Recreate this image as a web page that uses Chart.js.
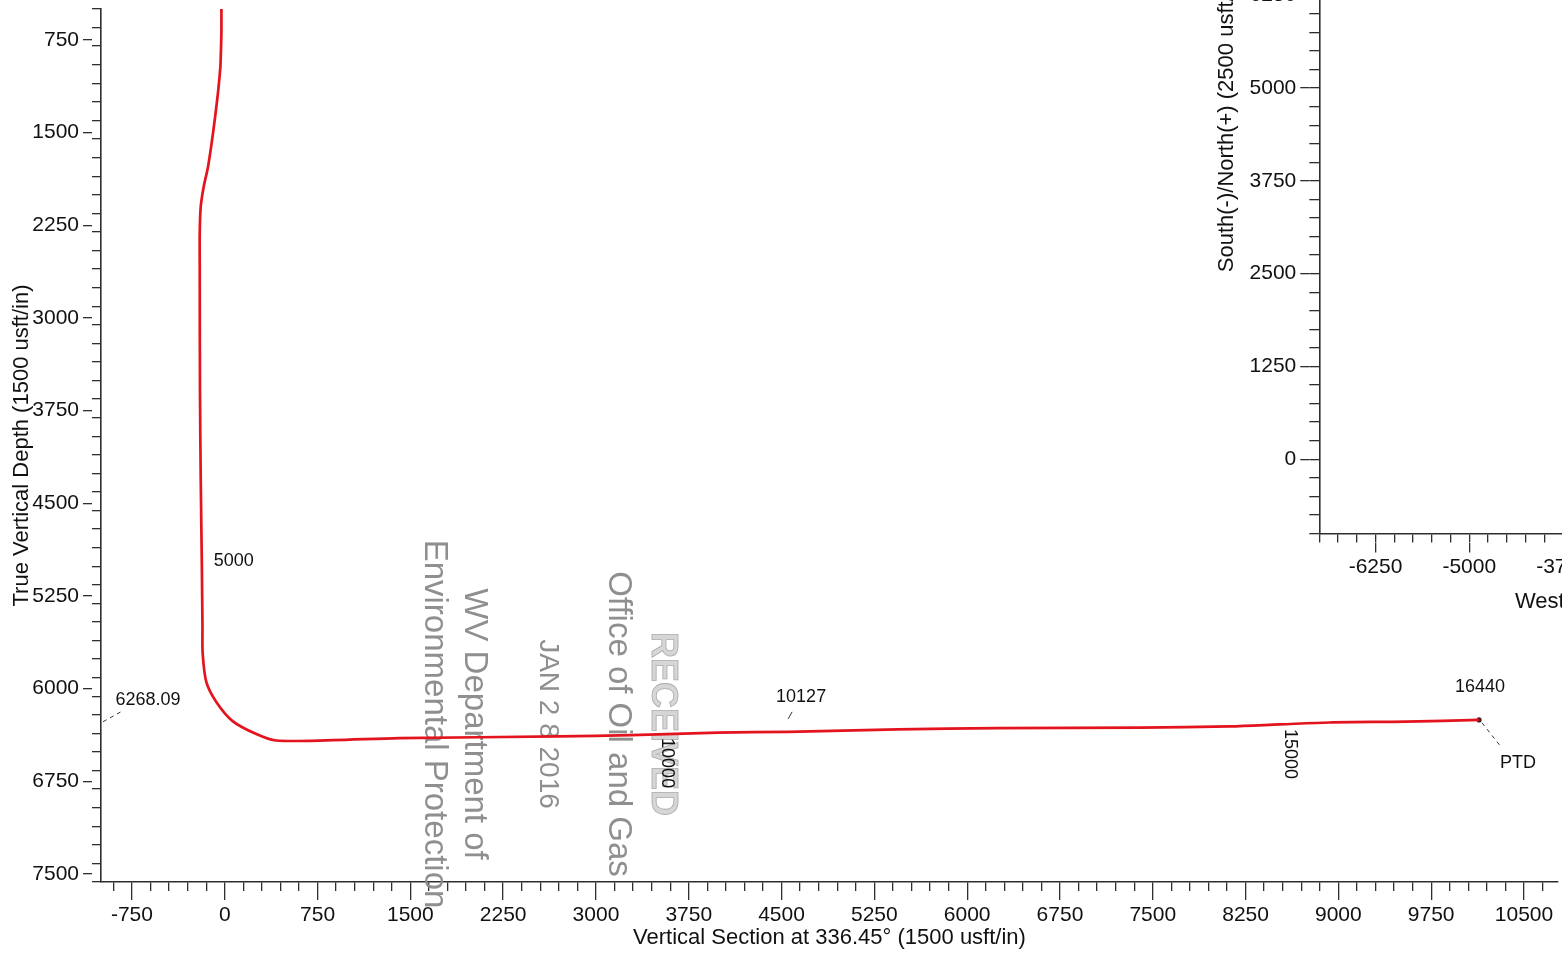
<!DOCTYPE html>
<html>
<head>
<meta charset="utf-8">
<title>Vertical section</title>
<script src="https://cdn.jsdelivr.net/npm/chart.js@4.4.1/dist/chart.umd.min.js"></script>
<style>
  html, body { margin: 0; padding: 0; background: #fff; overflow: hidden; }
  body { width: 1562px; height: 958px; position: relative; }
  #seccao { position: absolute; left: 0; top: 0; }
  #planta { position: absolute; left: 1200px; top: -300px; }
</style>
</head>
<body>
<canvas id="seccao" width="1562" height="958"></canvas>
<canvas id="planta" width="820" height="930"></canvas>
<script>
// well path in the vertical section (usft)
const sectionVS  = [-27, -27, -33, -35, -55, -95, -135, -170, -194, -202, -202, -200, -194, -185, -180, -178, -148, -67, 64, 255, 416, 870, 1410, 2699, 3287, 3989, 4553, 5439, 6245, 7397, 8123, 8526, 8928, 9549, 10137];
const sectionTVD = [500, 694, 913, 967, 1182, 1506, 1776, 1938, 2100, 2313, 2588, 3600, 4300, 5000, 5500, 5720, 5950, 6110, 6263, 6368, 6420, 6417, 6401, 6387, 6376, 6356, 6350, 6330, 6320, 6316, 6306, 6290, 6274, 6267, 6253];

// measured depth marks along the path
const mdLabels = ['5000', '10000', '10127', '15000', '16440'];
const mdVS     = [-178, 3570, 4553, 8598, 10137];
const mdTVD    = [4966, 6368, 6350, 6294, 6253];
const tvdTag   = 6268.09;
const endTag   = 'PTD';

// labelled ticks
const vsTicks    = [-750, 0, 750, 1500, 2250, 3000, 3750, 4500, 5250, 6000, 6750, 7500, 8250, 9000, 9750, 10500];
const tvdTicks   = [750, 1500, 2250, 3000, 3750, 4500, 5250, 6000, 6750, 7500];
const northTicks = [0, 1250, 2500, 3750, 5000, 6250];
const eastTicks  = [-6250, -5000, -3750];

// received stamp scanned over the sheet
const stampLines = ['RECEIVED', 'Office of Oil and Gas', 'JAN 2 8 2016', 'WV Department of', 'Environmental Protection'];

const fontFamily = '"Liberation Sans", Arial, Helvetica, sans-serif';
const axisColor = '#2e2e2e';
const textColor = '#111111';

Chart.defaults.font.family = fontFamily;
Chart.defaults.color = textColor;

const mdStyle = {
  '5000':  {dx: 11, dy: 0, align: 'left'},
  '10000': {dx: 0, dy: 4, turn: true},
  '10127': {dx: 13, dy: -35, lead: [0, -13, 4, -20]},
  '15000': {dx: 1, dy: 4, turn: true},
  '16440': {dx: 1, dy: -33}
};

const stampStyle = [
  {x: 662, size: 36, weight: 'bold', color: '#d6d6d6', edge: '#ababab'},
  {x: 618, size: 33, weight: 'normal', color: '#8f8f8f'},
  {x: 548, size: 28, weight: 'normal', color: '#8f8f8f'},
  {x: 474, size: 33, weight: 'normal', color: '#8f8f8f'},
  {x: 434, size: 33, weight: 'normal', color: '#8f8f8f'}
];

function plainLabel(v) {
  return String(v);
}

// minor axis: short ticks only; major axis sits right outside it
function minorAxis(pos, min, max, step, size, reverse) {
  return {
    type: 'linear', position: pos, weight: 0, reverse: !!reverse,
    min: min, max: max,
    ticks: {display: false, stepSize: step, includeBounds: false},
    grid: {drawOnChartArea: false, tickLength: size, color: axisColor, lineWidth: 1.3},
    border: {color: axisColor, width: 1.6},
    afterFit: (s) => {
      if (s.isHorizontal()) s.height = size; else s.width = size;
      s.paddingLeft = s.paddingRight = s.paddingTop = s.paddingBottom = 0;
    }
  };
}

function majorAxis(pos, min, max, values, size, box, pad, reverse, title) {
  return {
    type: 'linear', position: pos, weight: 1, reverse: !!reverse,
    min: min, max: max,
    afterBuildTicks: (s) => { s.ticks = values.map(v => ({value: v})); },
    ticks: {autoSkip: false, maxRotation: 0, padding: pad, font: {size: 21}, color: textColor, callback: plainLabel},
    grid: {drawOnChartArea: false, tickLength: size, color: axisColor, lineWidth: 1.3},
    border: {display: false},
    title: title || {display: false},
    afterFit: (s) => {
      if (s.isHorizontal()) s.height = box; else s.width = box;
      s.paddingLeft = s.paddingRight = s.paddingTop = s.paddingBottom = 0;
    }
  };
}

function axisTitle(text, padTop, padBottom) {
  return {display: true, text: text, font: {size: 22}, color: textColor, padding: {top: padTop, bottom: padBottom}};
}

function drawStamp(ctx) {
  ctx.save();
  stampLines.forEach((txt, i) => {
    const st = stampStyle[i];
    ctx.save();
    ctx.translate(st.x, 724);
    ctx.rotate(Math.PI / 2);
    ctx.font = st.weight + ' ' + st.size + 'px ' + fontFamily;
    ctx.textAlign = 'center';
    ctx.textBaseline = 'middle';
    ctx.fillStyle = st.color;
    ctx.fillText(txt, 0, 0);
    if (st.edge) {
      ctx.strokeStyle = st.edge;
      ctx.lineWidth = 0.8;
      ctx.strokeText(txt, 0, 0);
    }
    ctx.restore();
  });
  ctx.restore();
}

function drawNotes(chart) {
  const ctx = chart.ctx;
  const x = chart.scales.x;
  const y = chart.scales.y;
  ctx.save();
  ctx.fillStyle = textColor;
  ctx.strokeStyle = '#333';
  ctx.lineWidth = 1;
  ctx.font = '18px ' + fontFamily;

  mdLabels.forEach((txt, i) => {
    const st = mdStyle[txt];
    const px = x.getPixelForValue(mdVS[i]);
    const py = y.getPixelForValue(mdTVD[i]);
    if (st.lead) {
      ctx.beginPath();
      ctx.moveTo(px + st.lead[0], py + st.lead[1]);
      ctx.lineTo(px + st.lead[2], py + st.lead[3]);
      ctx.stroke();
    }
    ctx.save();
    ctx.translate(px + st.dx, py + st.dy);
    ctx.textBaseline = 'middle';
    if (st.turn) {
      ctx.rotate(Math.PI / 2);
      ctx.textAlign = 'left';
    } else {
      ctx.textAlign = st.align || 'center';
    }
    ctx.fillText(txt, 0, 0);
    ctx.restore();
  });

  // end of well: dashed leader to PTD
  const last = sectionVS.length - 1;
  const ex = x.getPixelForValue(sectionVS[last]);
  const ey = y.getPixelForValue(sectionTVD[last]);
  ctx.setLineDash([4, 4]);
  ctx.beginPath();
  ctx.moveTo(ex + 3, ey + 3);
  ctx.lineTo(ex + 22, ey + 27);
  ctx.stroke();
  ctx.textAlign = 'center';
  ctx.textBaseline = 'middle';
  ctx.fillText(endTag, ex + 39, ey + 43);

  // target depth tag on the TVD axis
  const ty = y.getPixelForValue(tvdTag);
  ctx.beginPath();
  ctx.moveTo(x.left + 2, ty);
  ctx.lineTo(x.left + 20, ty - 10);
  ctx.stroke();
  ctx.setLineDash([]);
  ctx.fillText(tvdTag.toFixed(2), x.left + 47, ty - 22);
  ctx.restore();
}

const sectionNotes = {
  id: 'sectionNotes',
  beforeDatasetsDraw(chart) { drawStamp(chart.ctx); },
  afterDraw(chart) { drawNotes(chart); }
};

function drawSection() {
  const pontos = sectionVS.map((v, i) => ({x: v, y: sectionTVD[i]}));
  const last = pontos.length - 1;
  new Chart(document.getElementById('seccao'), {
    type: 'scatter',
    data: {
      datasets: [{
        data: pontos,
        showLine: true,
        borderColor: '#e3141d',
        borderWidth: 2.7,
        tension: 0.3,
        pointRadius: 0
      }, {
        data: [pontos[last]],
        pointRadius: 2.6,
        pointBackgroundColor: '#3a2222',
        pointBorderWidth: 0
      }]
    },
    options: {
      responsive: false,
      animation: false,
      layout: {padding: {top: 9, left: 0, right: 0, bottom: 0}},
      plugins: {legend: {display: false}, tooltip: {enabled: false}},
      scales: {
        x: minorAxis('bottom', -1000, 10775, 150, 9),
        xMajor: majorAxis('bottom', -1000, 10775, vsTicks, 9, 67, 3, false,
          axisTitle('Vertical Section at 336.45° (1500 usft/in)', 0, 7)),
        y: minorAxis('left', 500, 7565, 150, 9, true),
        yMajor: majorAxis('left', 500, 7565, tvdTicks, 9, 92, 4, true,
          axisTitle('True Vertical Depth (1500 usft/in)', 9, 0))
      }
    },
    plugins: [sectionNotes]
  });
}

function drawPlan() {
  new Chart(document.getElementById('planta'), {
    type: 'scatter',
    data: {datasets: []},
    options: {
      responsive: false,
      animation: false,
      layout: {padding: {top: 9.5, left: 0, right: 25.7, bottom: 0}},
      plugins: {legend: {display: false}, tooltip: {enabled: false}},
      scales: {
        x: minorAxis('bottom', -7000, 2000, 250, 9),
        xMajor: majorAxis('bottom', -7000, 2000, eastTicks, 10, 87.5, 2, false,
          axisTitle('West(-)/East(+) (2500 usft/in)', 0, 15)),
        y: minorAxis('left', -1000, 10100, 250, 10),
        yMajor: majorAxis('left', -1000, 10100, northTicks, 9, 109.3, 4, false,
          axisTitle('South(-)/North(+) (2500 usft/in)', 14, 0))
      }
    }
  });
}

drawSection();
drawPlan();
</script>
</body>
</html>
